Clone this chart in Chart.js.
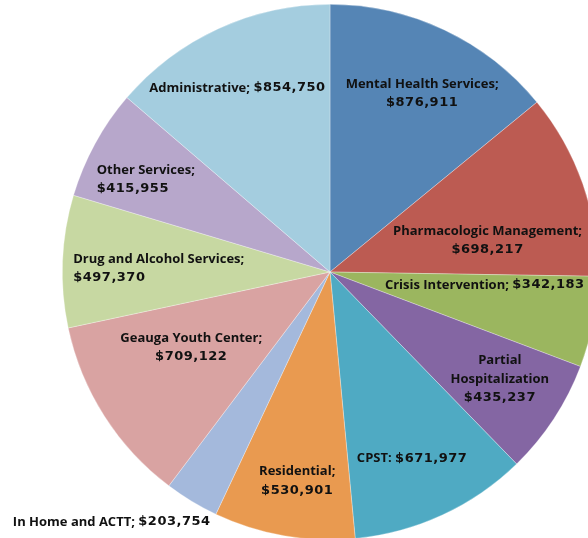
<!DOCTYPE html>
<html>
<head>
<meta charset="utf-8">
<script src="https://cdn.jsdelivr.net/npm/chart.js@4"></script>
<style>
  html, body { margin: 0; padding: 0; background: #fff; overflow: hidden; }
  #wrap { position: absolute; left: 0; top: 0; width: 660px; height: 544px; }
</style>
</head>
<body>
<div id="wrap"><canvas id="pie"></canvas></div>
<script>
// program names and spending, clockwise from 12 o'clock
const programs = [
  "Mental Health Services", "Pharmacologic Management", "Crisis Intervention",
  "Partial Hospitalization", "CPST", "Residential", "In Home and ACTT",
  "Geauga Youth Center", "Drug and Alcohol Services", "Other Services", "Administrative"
];
const spending = [876911, 698217, 342183, 435237, 671977, 530901, 203754, 709122, 497370, 415955, 854750];
const sliceColors = [
  "#5585b5", "#bc5b52", "#9bb65f", "#8466a3", "#4faac3", "#e99a50",
  "#a4b9dc", "#d9a3a2", "#c7d8a2", "#b7a7cb", "#a4cddf"
];

// how each label is written (lines, "#" = the amount)
const labelLines = [
  ["Mental Health Services;", "#"],
  ["Pharmacologic Management;", "#"],
  ["Crisis Intervention; #"],
  ["Partial", "Hospitalization", "#"],
  ["CPST: #"],
  ["Residential;", "#"],
  ["In Home and ACTT; #"],
  ["Geauga Youth Center;", "#"],
  ["Drug and Alcohol Services;", "#"],
  ["Other Services;", "#"],
  ["Administrative; #"]
];
// label placement: fraction of radius, angle shift (deg), line alignment
const labelRadius = [0.75, 0.6, 0.58, 0.75, 0.76, 0.79, 1.24, 0.59, 0.64, 0.77, 0.77];
const labelShift = [2, 8, -6, -1, 1, -1, 10, 4, -1, -2, -2];
const labelAlign = ["center", "center", "center", "center", "center", "center", "left", "center", "left", "left", "center"];

const money = v => "$" + v.toLocaleString("en-US");
const nameFont = "bold 13px 'Open Sans', sans-serif";
const amountFont = "bold 13px 'DejaVu Sans', sans-serif";

function lineParts(ctx, text, value) {
  const parts = [];
  const idx = text.indexOf("#");
  if (idx < 0) {
    parts.push({ s: text, font: nameFont, sp: "0px" });
  } else {
    if (idx > 0) parts.push({ s: text.slice(0, idx), font: nameFont, sp: "0px" });
    parts.push({ s: money(value), font: amountFont, sp: "0.5px" });
  }
  let w = 0;
  parts.forEach(p => {
    ctx.font = p.font;
    ctx.letterSpacing = p.sp;
    p.w = ctx.measureText(p.s).width;
    w += p.w;
  });
  return { parts, w };
}

const labelPlugin = {
  id: "sliceLabels",
  afterDatasetsDraw(chart) {
    const ctx = chart.ctx;
    const arcs = chart.getDatasetMeta(0).data;
    ctx.save();
    ctx.fillStyle = "#111";
    ctx.textBaseline = "middle";
    ctx.textAlign = "left";
    const lh = 18.5;
    arcs.forEach((arc, i) => {
      const { x, y, startAngle, endAngle, outerRadius } = arc.getProps(["x", "y", "startAngle", "endAngle", "outerRadius"], true);
      const a = (startAngle + endAngle) / 2 + labelShift[i] * Math.PI / 180;
      const r = outerRadius * labelRadius[i];
      const cx = x + Math.cos(a) * r;
      const cy = y + Math.sin(a) * r;
      const lines = labelLines[i].map(s => lineParts(ctx, s, spending[i]));
      const w = Math.max(...lines.map(l => l.w));
      lines.forEach((l, k) => {
        const ly = cy + (k - (lines.length - 1) / 2) * lh;
        let lx = labelAlign[i] === "left" ? cx - w / 2 : cx - l.w / 2;
        l.parts.forEach(p => {
          ctx.font = p.font;
          ctx.letterSpacing = p.sp;
          ctx.fillText(p.s, lx, ly);
          lx += p.w;
        });
      });
    });
    ctx.restore();
  }
};

new Chart(document.getElementById("pie"), {
  type: "pie",
  data: {
    labels: programs,
    datasets: [{
      data: spending,
      backgroundColor: sliceColors,
      borderColor: "rgba(255,255,255,0.5)",
      borderWidth: 0.6
    }]
  },
  options: {
    responsive: true,
    maintainAspectRatio: false,
    animation: false,
    layout: { padding: 4 },
    plugins: {
      legend: { display: false },
      tooltip: { enabled: false }
    }
  },
  plugins: [labelPlugin]
});
</script>
</body>
</html>
